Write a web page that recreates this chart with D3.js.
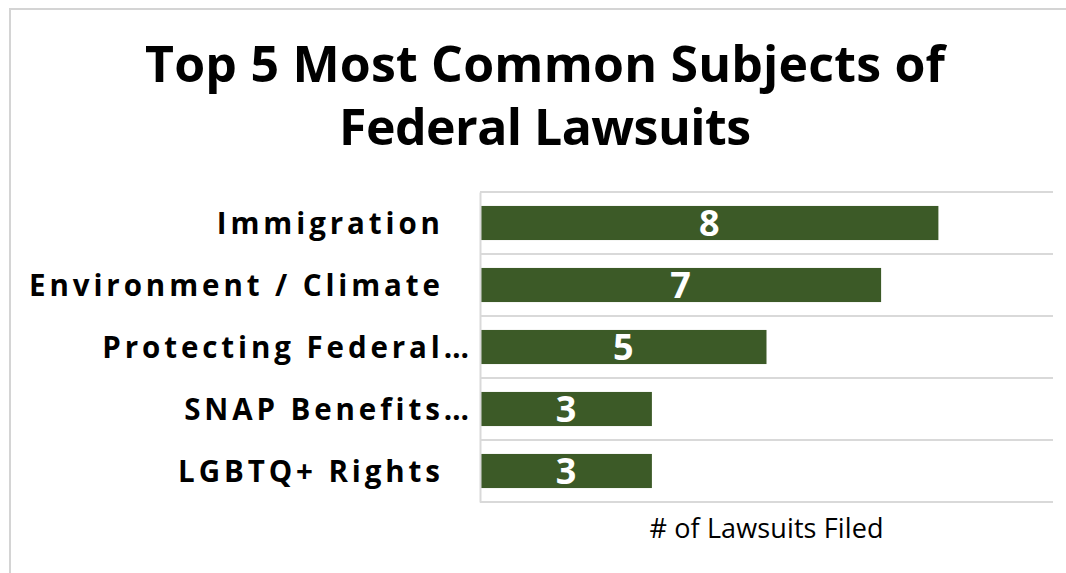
<!DOCTYPE html>
<html>
<head>
<meta charset="utf-8">
<script src="https://cdn.jsdelivr.net/npm/d3@7"></script>
<style>
  html, body { margin: 0; padding: 0; background: #ffffff; }
  svg { display: block; }
</style>
</head>
<body>
<svg id="chart" width="1066" height="573"></svg>
<script>
// ---- data ----
const categories = ["Immigration", "Environment / Climate", "Protecting Federal…", "SNAP Benefits…", "LGBTQ+ Rights"];
const values = [8, 7, 5, 3, 3];
const xDomain = [0, 10];
const titleLines = ["Top 5 Most Common Subjects of", "Federal Lawsuits"];
const axisTitle = "# of Lawsuits Filed";

// ---- layout ----
const W = 1066, H = 573;
const plot = { left: 480, right: 1053, top: 192, bottom: 502 };
const barColor = "#3c5a27";
const gridColor = "#d9d9d9";
const font = "'Open Sans', 'Noto Sans', sans-serif";

const svg = d3.select("#chart");

// chart frame
svg.append("rect")
  .attr("x", 10).attr("y", 9)
  .attr("width", W + 20).attr("height", H + 20)
  .attr("fill", "#fff")
  .attr("stroke", "#d4d4d4").attr("stroke-width", 2);

const x = d3.scaleLinear().domain(xDomain).range([plot.left, plot.right]);
const y = d3.scaleBand().domain(categories).range([plot.top, plot.bottom])
  .paddingInner(0.45).paddingOuter(0.225);

// horizontal gridlines at category boundaries
const boundaries = d3.range(categories.length + 1).map(i => plot.top + i * y.step());
svg.append("g").selectAll("line").data(boundaries).join("line")
  .attr("x1", plot.left).attr("x2", plot.right)
  .attr("y1", d => d).attr("y2", d => d)
  .attr("stroke", gridColor).attr("stroke-width", 2);

// bars
svg.append("g").selectAll("rect").data(categories).join("rect")
  .attr("x", x(0) + 1)
  .attr("y", d => y(d))
  .attr("width", (d, i) => x(values[i]) - x(0) - 1)
  .attr("height", y.bandwidth())
  .attr("fill", barColor);

// value labels
svg.append("g").selectAll("text").data(categories).join("text")
  .attr("x", (d, i) => (x(0) + x(values[i])) / 2)
  .attr("y", d => y(d) + y.bandwidth() / 2 + 13)
  .attr("text-anchor", "middle")
  .attr("fill", "#ffffff")
  .attr("font-family", font)
  .attr("font-weight", 700)
  .attr("font-size", 36)
  .text((d, i) => values[i]);

// category axis
const yAxis = d3.axisLeft(y).tickSize(0).tickSizeOuter(0).tickPadding(40);
const gy = svg.append("g").attr("transform", `translate(${plot.left},0)`).call(yAxis);
gy.select(".domain").attr("stroke", gridColor).attr("stroke-width", 2);
const labels = gy.selectAll(".tick text")
  .attr("font-family", font)
  .attr("font-weight", 700)
  .attr("font-size", 29.5)
  .attr("fill", "#000")
  .attr("dy", null)
  .attr("y", 11);
// fit letter spacing so the longest label spans the reference width
let longest = null, lw = 0;
labels.each(function() { const w = this.getComputedTextLength(); if (w > lw) { lw = w; longest = this; } });
const ls = (411 - lw) / (longest.textContent.length - 1);
labels.attr("letter-spacing", ls)
  .attr("x", d => (d.endsWith("…") ? -11 : -40) + ls);

// title
const title = svg.append("g").selectAll("text").data(titleLines).join("text")
  .attr("x", 545)
  .attr("y", (d, i) => 82 + i * 63)
  .attr("text-anchor", "middle")
  .attr("font-family", font)
  .attr("font-weight", 700)
  .attr("font-size", 50)
  .attr("fill", "#000")
  .text(d => d);
const titleWidths = [800, 412];
title.each(function(d, i) {
  const w = this.getComputedTextLength();
  const s = (titleWidths[i] - w) / (d.length - 1);
  d3.select(this).attr("letter-spacing", s).attr("x", 545 + s / 2);
});

// axis title
const at = svg.append("text")
  .attr("x", (plot.left + plot.right) / 2)
  .attr("y", 538)
  .attr("text-anchor", "middle")
  .attr("font-family", font)
  .attr("font-size", 27)
  .attr("fill", "#000")
  .text(axisTitle);
{
  const w = at.node().getComputedTextLength();
  const s = (234 - w) / (axisTitle.length - 1);
  at.attr("letter-spacing", s).attr("x", (plot.left + plot.right) / 2 + s / 2);
}
</script>
</body>
</html>
